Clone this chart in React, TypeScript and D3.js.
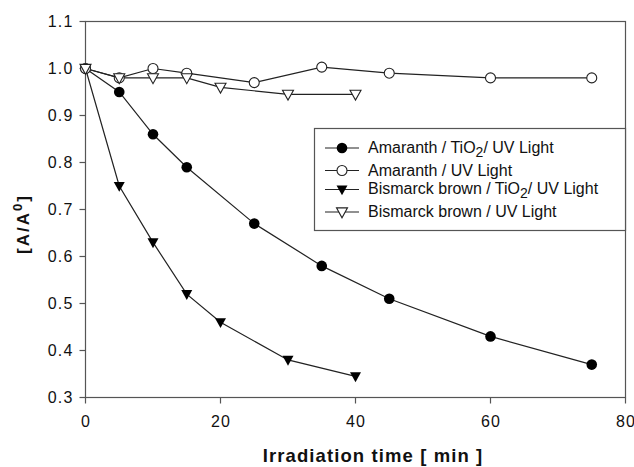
import React from "react";
import * as d3 from "d3";

const amaranthTiO2X = [0, 5, 10, 15, 25, 35, 45, 60, 75];
const amaranthTiO2Y = [1.0, 0.95, 0.86, 0.79, 0.67, 0.58, 0.51, 0.43, 0.37];
const amaranthUVX = [0, 5, 10, 15, 25, 35, 45, 60, 75];
const amaranthUVY = [1.0, 0.98, 1.0, 0.99, 0.97, 1.003, 0.99, 0.98, 0.98];
const bismarckTiO2X = [0, 5, 10, 15, 20, 30, 40];
const bismarckTiO2Y = [1.0, 0.75, 0.63, 0.52, 0.46, 0.38, 0.345];
const bismarckUVX = [0, 5, 10, 15, 20, 30, 40];
const bismarckUVY = [1.0, 0.98, 0.98, 0.98, 0.96, 0.945, 0.945];

const xTicks = [0, 20, 40, 60, 80];
const yTicks = [0.3, 0.4, 0.5, 0.6, 0.7, 0.8, 0.9, 1.0, 1.1];

type Marker = "filledCircle" | "openCircle" | "filledTri" | "openTri";

const series: { name: string; xs: number[]; ys: number[]; marker: Marker }[] = [
  { name: "Amaranth / TiO|2|/ UV Light", xs: amaranthTiO2X, ys: amaranthTiO2Y, marker: "filledCircle" },
  { name: "Amaranth / UV Light", xs: amaranthUVX, ys: amaranthUVY, marker: "openCircle" },
  { name: "Bismarck brown / TiO|2|/ UV Light", xs: bismarckTiO2X, ys: bismarckTiO2Y, marker: "filledTri" },
  { name: "Bismarck brown / UV Light", xs: bismarckUVX, ys: bismarckUVY, marker: "openTri" },
];

const W = 634;
const H = 467;
const L = 85.5;
const R = 625.5;
const T = 21.5;
const B = 397.5;

const FONT = "'Liberation Sans', Arial, Helvetica, sans-serif";

function MarkerShape({ type, x, y }: { type: Marker; x: number; y: number }) {
  if (type === "filledCircle") return <circle cx={x} cy={y} r={5.3} fill="#000" />;
  if (type === "openCircle")
    return <circle cx={x} cy={y} r={5} fill="#fff" stroke="#222" strokeWidth={1.1} />;
  const s = 5.5;
  const d = `M${x - s},${y - s * 0.75} L${x + s},${y - s * 0.75} L${x},${y + s * 1.05} Z`;
  if (type === "filledTri") return <path d={d} fill="#000" />;
  return <path d={d} fill="#fff" stroke="#222" strokeWidth={1.1} />;
}

function LabelText({ text, x, y }: { text: string; x: number; y: number }) {
  const parts = text.split("|");
  return (
    <text x={x} y={y} fontFamily={FONT} fontSize={16} fill="#111">
      {parts.map((p, i) =>
        i % 2 === 1 ? (
          <tspan key={i} baselineShift="-28%" fontSize={14}>
            {p}
          </tspan>
        ) : (
          <tspan key={i}>{p}</tspan>
        )
      )}
    </text>
  );
}

export default function App() {
  const x = d3.scaleLinear().domain([0, 80]).range([L, R]);
  const y = d3.scaleLinear().domain([0.3, 1.1]).range([B, T]);
  const line = d3
    .line<[number, number]>()
    .x((d) => x(d[0]))
    .y((d) => y(d[1]));

  const legX = 314.5;
  const legY = 128.5;
  const legW = R - legX;
  const legH = 102;
  const rowBase = [153.3, 175.7, 194.3, 216.7];
  const rowSym = [148, 170.5, 189.5, 212];

  return (
    <svg width={W} height={H} style={{ position: "absolute", left: 0, top: 0, background: "#fff" }}>
      <rect x={0} y={0} width={W} height={H} fill="#fff" />
      <rect x={L} y={T} width={R - L} height={B - T} fill="none" stroke="#555" strokeWidth={1.2} />
      {yTicks.map((t) => (
        <g key={t}>
          <line x1={L - 6} x2={L} y1={y(t)} y2={y(t)} stroke="#555" strokeWidth={1.2} />
          <text
            x={L - 12}
            y={y(t) + 5.8}
            textAnchor="end"
            fontFamily={FONT}
            fontSize={16}
            letterSpacing={1.2}
            fill="#111"
          >
            {d3.format(".1f")(t)}
          </text>
        </g>
      ))}
      {xTicks.map((t) => (
        <g key={t}>
          <line x1={x(t)} x2={x(t)} y1={B} y2={B + 6} stroke="#555" strokeWidth={1.2} />
          <text
            x={x(t) + 0.6}
            y={427}
            textAnchor="middle"
            fontFamily={FONT}
            fontSize={16}
            letterSpacing={1.2}
            fill="#111"
          >
            {t}
          </text>
        </g>
      ))}
      <text
        x={373}
        y={462}
        textAnchor="middle"
        fontFamily={FONT}
        fontSize={18.5}
        fontWeight="bold"
        letterSpacing={1.1}
        fill="#111"
      >
        Irradiation time [ min ]
      </text>
      <text
        transform={`translate(29,${224}) rotate(-90)`}
        textAnchor="middle"
        fontFamily={FONT}
        fontSize={17}
        fontWeight="bold"
        letterSpacing={2}
        fill="#111"
      >
        [A/A<tspan baselineShift="super" fontSize={13}>0</tspan>]
      </text>
      {series.map((s) => (
        <path
          key={s.name}
          d={line(s.xs.map((v, i) => [v, s.ys[i]] as [number, number])) || ""}
          fill="none"
          stroke="#222"
          strokeWidth={1.2}
        />
      ))}
      {series.map((s) =>
        s.xs.map((v, i) => <MarkerShape key={s.name + i} type={s.marker} x={x(v)} y={y(s.ys[i])} />)
      )}
      <rect x={legX} y={legY} width={legW} height={legH} fill="#fff" stroke="#555" strokeWidth={1.2} />
      {series.map((s, i) => (
        <g key={s.name}>
          <line x1={325} x2={359} y1={rowSym[i]} y2={rowSym[i]} stroke="#222" strokeWidth={1.2} />
          <MarkerShape type={s.marker} x={342} y={rowSym[i]} />
          <LabelText text={s.name} x={368} y={rowBase[i]} />
        </g>
      ))}
    </svg>
  );
}
